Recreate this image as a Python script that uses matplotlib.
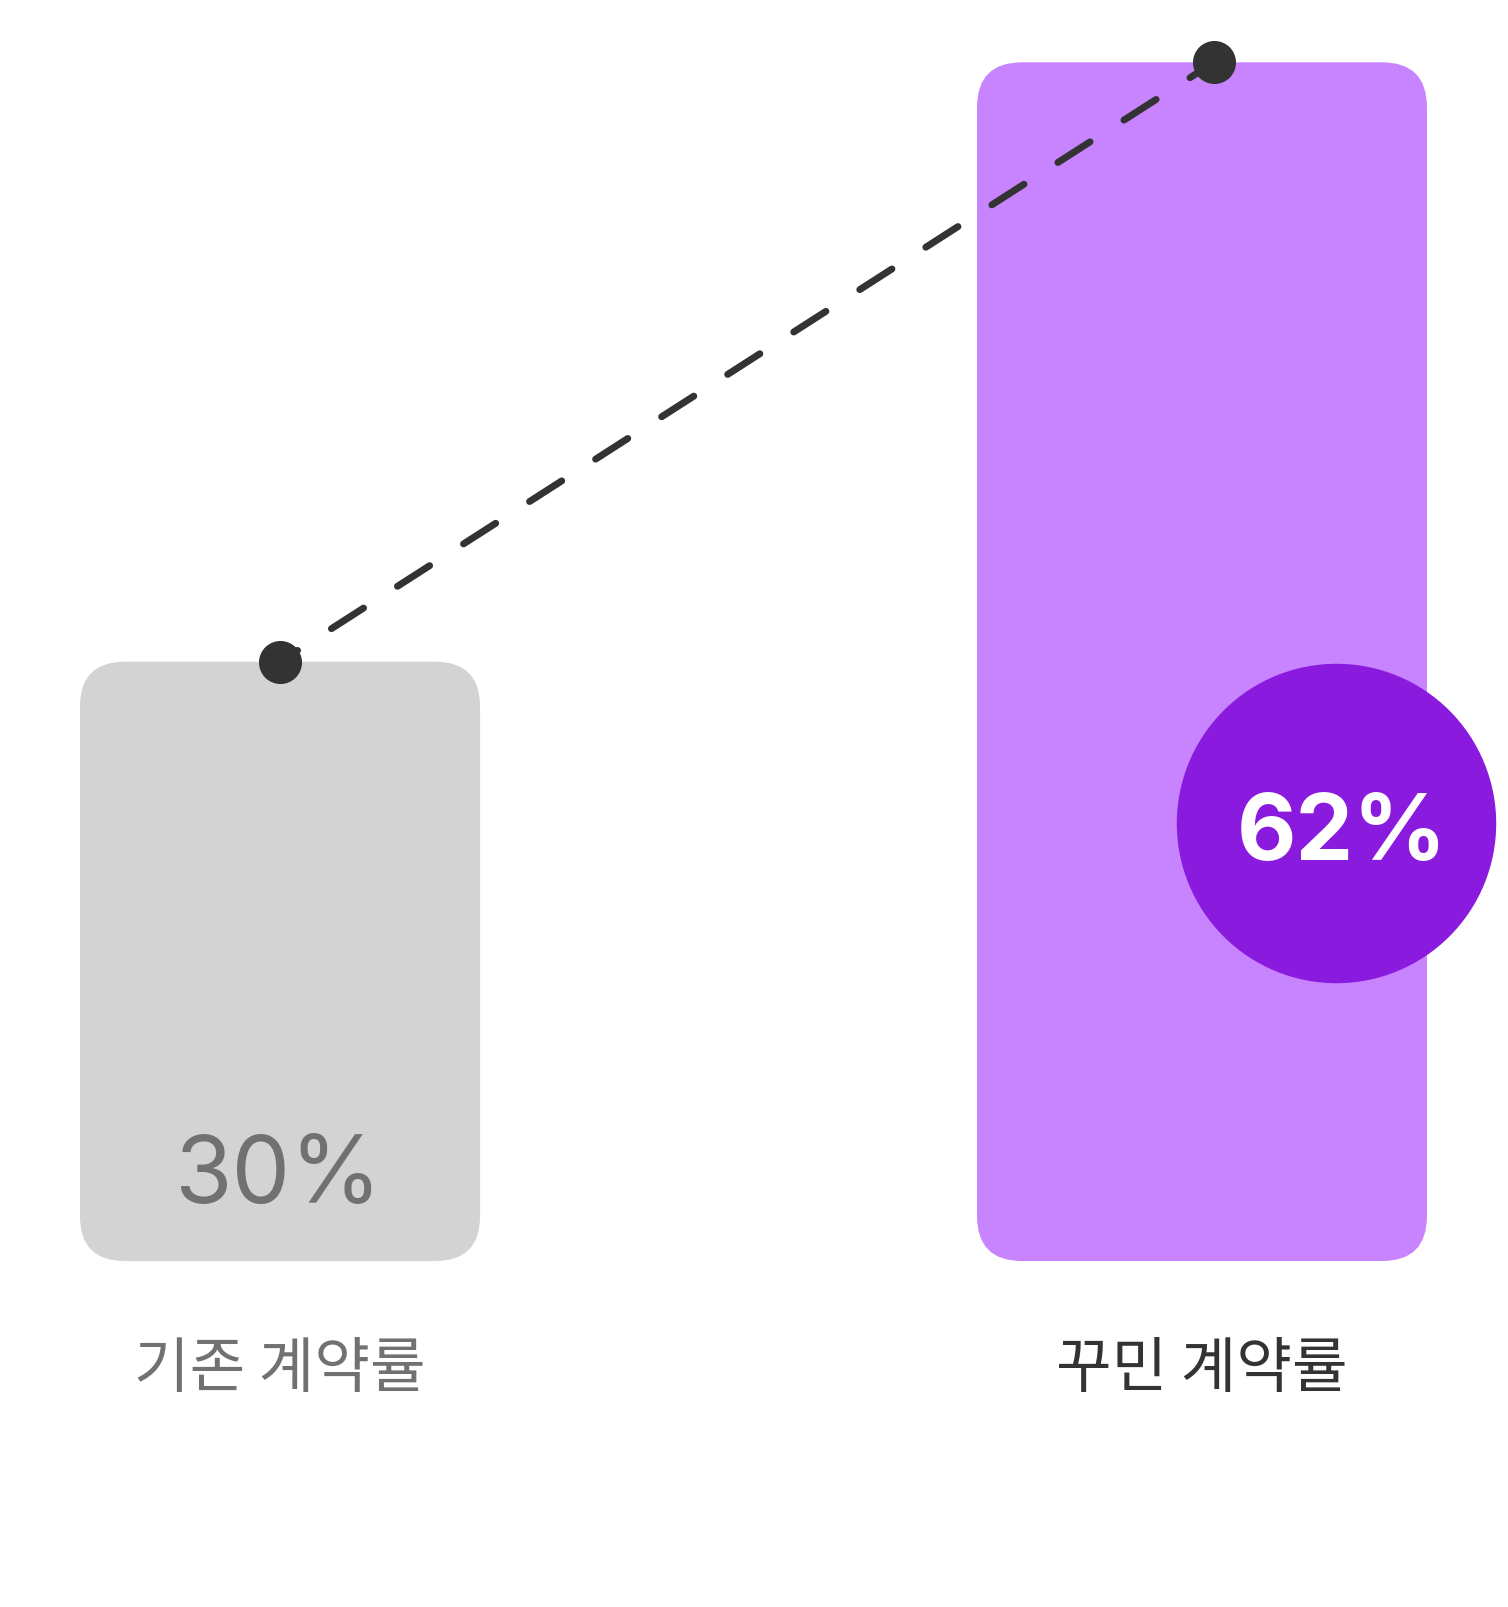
import matplotlib
matplotlib.use("Agg")
import matplotlib.pyplot as plt
from matplotlib.patches import FancyBboxPatch

# ---- data ----
categories = ["기존 계약률", "꾸민 계약률"]
values = [30, 62]
value_labels = ["30%", "62%"]

# ---- style ----
bar_colors = ["#D3D3D3", "#C883FE"]
label_colors = ["#717171", "#333333"]
bar_widths = [0.434, 0.488]
bar_base = -2
highlight_color = "#8B1ADF"
line_color = "#333333"

W, H, DPI = 15.08, 16.08, 100
fig = plt.figure(figsize=(W, H), dpi=DPI)
ax = fig.add_axes([0, 0, 1, 1])
xlim = (-0.3037, 1.3319)
ylim = (-20.47, 65.38)
ax.set_xlim(*xlim)
ax.set_ylim(*ylim)
ax.axis("off")

px_per_x = W * DPI / (xlim[1] - xlim[0])
px_per_y = H * DPI / (ylim[1] - ylim[0])
radius_px = 45
aspect = px_per_x / px_per_y

xs = list(range(len(categories)))
for x, v, w, c in zip(xs, values, bar_widths, bar_colors):
    p = FancyBboxPatch((x - w / 2, bar_base), w, v - bar_base,
                       boxstyle=f"round,pad=0,rounding_size={radius_px / px_per_x}",
                       mutation_aspect=aspect, fc=c, ec="none", zorder=1)
    ax.add_patch(p)

# dashed connector line with dots
dot_x = [xs[0], xs[1] + 0.013]
ax.plot(dot_x, values, color=line_color, lw=5.0, ls=(2.5, (5.5, 5.8)),
        dash_capstyle="round", zorder=3)
ax.plot(dot_x, values, "o", color=line_color, ms=31, mec="none", zorder=4)

# category labels
for x, cat, c in zip(xs, categories, label_colors):
    ax.text(x, -7.77, cat, ha="center", va="center", fontsize=43.5,
            family=["Noto Sans CJK KR", "DejaVu Sans"], weight="medium", color=c)

# value labels
ax.text(xs[0] - 0.002, 1.15, value_labels[0], ha="center", va="baseline",
        fontsize=67, family=["Inter", "DejaVu Sans"], color="#717171", zorder=5)

# highlight circle with value
cx, cy = 1.145, 21.41
ax.plot([cx], [cy], "o", ms=230, color=highlight_color, mec="none", zorder=5)
ax.text(1.152, 19.46, value_labels[1], ha="center", va="baseline",
        fontsize=66, family=["Inter", "DejaVu Sans"], weight="bold",
        color="white", zorder=6)

fig.savefig("out.png", dpi=DPI, facecolor="white")
